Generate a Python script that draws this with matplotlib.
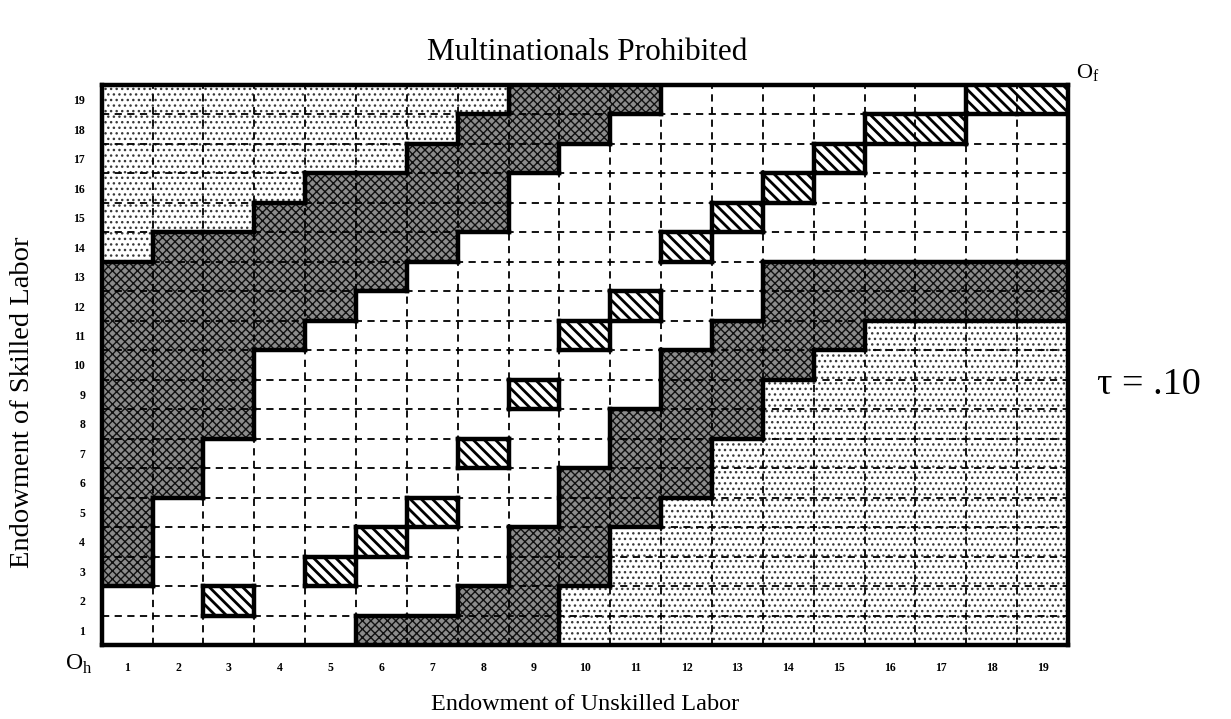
import matplotlib
matplotlib.use("Agg")
import matplotlib.pyplot as plt
from matplotlib.patches import Rectangle

plt.rcParams['font.family'] = ['Liberation Serif', 'DejaVu Serif']
plt.rcParams['mathtext.fontset'] = 'custom'
plt.rcParams['mathtext.rm'] = 'Liberation Serif'

# Cell regimes, one string per row of skilled labor, top row (19) first.
# L = light dotted, D = dark, W = white, H = hatched
rows_top_down = [
    "LLLLLLLLDDDWWWWWWHH",  # 19
    "LLLLLLLDDDWWWWWHHWW",  # 18
    "LLLLLLDDDWWWWWHWWWW",  # 17
    "LLLLDDDDWWWWWHWWWWW",  # 16
    "LLLDDDDDWWWWHWWWWWW",  # 15
    "LDDDDDDWWWWHWWWWWWW",  # 14
    "DDDDDDWWWWWWWDDDDDD",  # 13
    "DDDDDWWWWWHWWDDDDDD",  # 12
    "DDDDWWWWWHWWDDDLLLL",  # 11
    "DDDWWWWWWWWDDDLLLLL",  # 10
    "DDDWWWWWHWWDDLLLLLL",  # 9
    "DDDWWWWWWWDDDLLLLLL",  # 8
    "DDWWWWWHWWDDLLLLLLL",  # 7
    "DDWWWWWWWDDDLLLLLLL",  # 6
    "DWWWWWHWWDDLLLLLLLL",  # 5
    "DWWWWHWWDDLLLLLLLLL",  # 4
    "DWWWHWWWDDLLLLLLLLL",  # 3
    "WWHWWWWDDLLLLLLLLLL",  # 2
    "WWWWWDDDDLLLLLLLLLL",  # 1
]
unskilled = list(range(1, 20))
skilled = list(range(19, 0, -1))

styles = {
    'L': (1.0, dict(facecolor='white', hatch='...', edgecolor='#3a3a3a')),
    'D': (1.0, dict(facecolor='#8c8c8c', hatch='xxxx', edgecolor='#111111')),
    'W': (1.0, dict(facecolor='white', hatch=None, edgecolor='white')),
    'H': (2.0, dict(facecolor='white', hatch='\\\\\\', edgecolor='black')),
}

grid = {}
for s, row in zip(skilled, rows_top_down):
    for u, c in zip(unskilled, row):
        grid[(u, s)] = c

fig = plt.figure(figsize=(12.31, 7.19), dpi=100)
ax = fig.add_axes([0.0826, 0.1029, 0.785, 0.779])

for (u, s), c in grid.items():
    hlw, st = styles[c]
    with plt.rc_context({'hatch.linewidth': hlw}):
        ax.add_patch(Rectangle((u - 0.5, s - 0.5), 1, 1, linewidth=0, **st))

# dashed interior grid
for k in unskilled[:-1]:
    ax.axvline(k + 0.5, color='black', lw=1.3, ls=(0, (4, 3)), zorder=2)
for k in skilled[1:]:
    ax.axhline(k + 0.5, color='black', lw=1.3, ls=(0, (4, 3)), zorder=2)

# thick borders between regimes
for (u, s), c in grid.items():
    if (u + 1, s) in grid and grid[(u + 1, s)] != c:
        ax.plot([u + 0.5, u + 0.5], [s - 0.5, s + 0.5], color='black', lw=3.2,
                solid_capstyle='projecting', zorder=3)
    if (u, s + 1) in grid and grid[(u, s + 1)] != c:
        ax.plot([u - 0.5, u + 0.5], [s + 0.5, s + 0.5], color='black', lw=3.2,
                solid_capstyle='projecting', zorder=3)

ax.set_xlim(0.5, 19.5)
ax.set_ylim(0.5, 19.5)
ax.set_xticks(unskilled)
ax.set_yticks(unskilled)
ax.set_xticklabels([str(v) for v in unskilled], fontsize=8.5, fontweight='bold')
ax.set_yticklabels([str(v) for v in unskilled], fontsize=8.5, fontweight='bold')
ax.tick_params(length=0, pad=12)
for sp in ax.spines.values():
    sp.set_linewidth(3.2)
    sp.set_zorder(4)

fig.text(0.477, 0.927, 'Multinationals Prohibited', fontsize=22.5, ha='center', va='center')
ax.set_xlabel('Endowment of Unskilled Labor', fontsize=17.5, va='center', ha='center')
ax.xaxis.set_label_coords(0.5, -0.107)
ax.set_ylabel('Endowment of Skilled Labor', fontsize=20.5, va='center', ha='center')
ax.yaxis.set_label_coords(-0.082, 0.434)
fig.text(0.884, 0.898, r'O$_\mathrm{f}$', fontsize=16, ha='center', va='center')
fig.text(0.064, 0.076, r'O$_\mathrm{h}$', fontsize=17, ha='center', va='center')
fig.text(0.933, 0.465, 'τ = .10', fontsize=27.5, ha='center', va='center')

fig.savefig('out.png', dpi=100)
